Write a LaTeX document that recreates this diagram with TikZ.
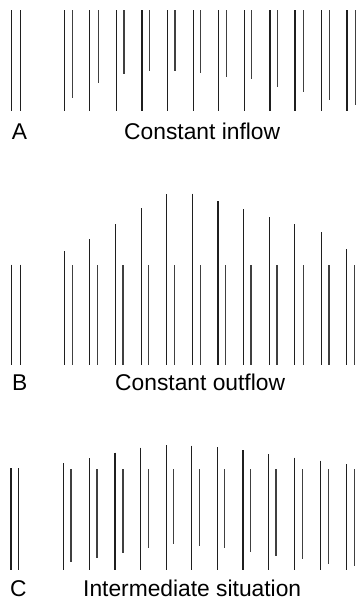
\documentclass[tikz,border=0pt]{standalone}
\usepackage{fontspec}
\setmainfont{Liberation Sans}
\begin{document}
\begin{tikzpicture}[x=1pt,y=-1pt,
  bar/.style={line width=1.45pt, draw=black!88},
  sbar/.style={line width=1.45pt, draw=black!75},
  lbl/.style={anchor=base west, inner sep=0pt, font=\fontsize{22.8}{27}\selectfont}]
\useasboundingbox (0,0) rectangle (358,600);
% ---------- Panel A: constant inflow ----------
\draw[bar] (11.7,10) -- (11.7,111);
\draw[bar] (20.3,10) -- (20.3,111);
\foreach \xl/\xs/\b in {64.7/72.7/98.3, 89.3/98.3/83.3, 116.3/124/73.7, 142/149.3/71,
  167.7/175/71, 193.3/200.7/73.3, 218.3/226.3/76.7, 244.3/251.7/79,
  270/277.7/86.7, 295/303.7/92, 321.7/329.7/100, 347/355.3/105}
{
  \draw[bar] (\xl,10) -- (\xl,111);
  \draw[sbar] (\xs,10) -- (\xs,\b);
}
\node[lbl] (la) at (11.7,139) {A};
\node[lbl] (ta) at (124,139) {Constant inflow};
% ---------- Panel B: constant outflow ----------
\draw[bar] (11.7,264.5) -- (11.7,365);
\draw[bar] (20.3,264.5) -- (20.3,365);
\foreach \xl/\xs/\t in {64.7/72.5/251, 89.3/97.5/239, 115.7/123/224, 141.3/148.7/208.3,
  166.7/174.3/194, 192.7/200.3/193.7, 218/225.7/201, 243.3/251/209,
  269.7/277/217, 294.7/303.3/224, 321.3/329/232, 346.7/354.3/249}
{
  \draw[bar] (\xl,\t) -- (\xl,365);
  \draw[sbar] (\xs,265) -- (\xs,365);
}
\node[lbl] (lb) at (12,390) {B};
\node[lbl] (tb) at (115,390) {Constant outflow};
% ---------- Panel C: intermediate situation ----------
\draw[bar] (11,468.3) -- (11,570);
\draw[bar] (18.7,468.3) -- (18.7,570);
\foreach \xl/\t/\xs/\b in {63.3/463.3/71/561.7, 89.3/458.3/97/558.3, 115/452.7/123/552.7,
  140.3/447.7/148.7/548.3, 166.3/445/173.7/544, 191.7/445.7/199.7/546,
  217.3/447.3/224.7/548.3, 243/450/250.3/551.7, 268.3/454/276/555.7,
  294.3/457.7/302.3/559.3, 320.7/460.7/328.3/564.3, 346.3/464.3/354.7/566}
{
  \draw[bar] (\xl,\t) -- (\xl,570);
  \draw[sbar] (\xs,469) -- (\xs,\b);
}
\node[lbl] (lc) at (10,596.5) {C};
\node[lbl] (tc) at (83,596.5) {Intermediate situation};
\end{tikzpicture}
\end{document}
